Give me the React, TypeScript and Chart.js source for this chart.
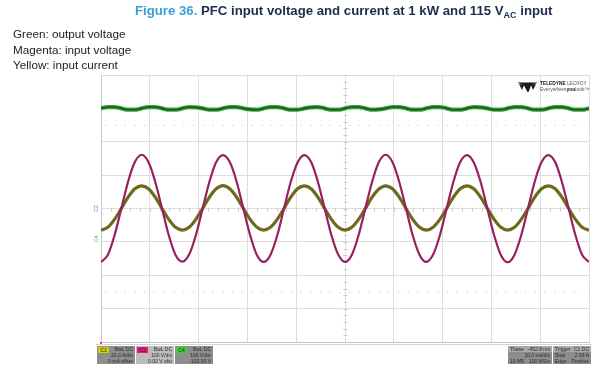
import React, { useEffect, useRef } from "react";
import { Chart, registerables } from "chart.js";
Chart.register(...registerables);

// Time axis (ms), 10 ms/div, 10 divisions
const timeMs = [
  0, 1.39, 2.78, 4.17, 5.56, 6.94, 8.33, 9.72, 11.11, 12.5, 13.89, 15.28,
  16.67, 18.06, 19.44, 20.83, 22.22, 23.61, 25, 26.39, 27.78, 29.17, 30.56, 31.94,
  33.33, 34.72, 36.11, 37.5, 38.89, 40.28, 41.67, 43.06, 44.44, 45.83, 47.22, 48.61,
  50, 51.39, 52.78, 54.17, 55.56, 56.94, 58.33, 59.72, 61.11, 62.5, 63.89, 65.28,
  66.67, 68.06, 69.44, 70.83, 72.22, 73.61, 75, 76.39, 77.78, 79.17, 80.56, 81.94,
  83.33, 84.72, 86.11, 87.5, 88.89, 90.28, 91.67, 93.06, 94.44, 95.83, 97.22, 98.61,
  100,
];

// Magenta: input voltage (V)
const inputVoltage = [
  -160, -139, -80, 0, 81, 139, 161, 139, 80, 0, -80, -139,
  -159, -138, -80, 0, 80, 139, 160, 139, 81, 0, -80, -139,
  -160, -139, -81, 0, 80, 138, 160, 139, 80, 0, -80, -138,
  -160, -139, -80, 0, 80, 139, 161, 139, 80, 0, -81, -139,
  -160, -138, -80, 0, 80, 139, 160, 138, 80, 0, -80, -139,
  -161, -139, -80, 0, 81, 139, 160, 139, 80, 0, -80, -139,
  -160,
];

// Yellow: input current (A)
const inputCurrent = [
  -13.0, -11.3, -6.5, 0, 6.8, 11.8, 13.6, 11.8, 6.8, 0, -6.5, -11.3,
  -13.0, -11.3, -6.5, 0, 6.8, 11.8, 13.7, 11.8, 6.8, 0, -6.5, -11.2,
  -12.9, -11.3, -6.5, 0, 6.8, 11.8, 13.6, 11.8, 6.8, 0, -6.5, -11.3,
  -13.0, -11.3, -6.5, 0, 6.8, 11.7, 13.6, 11.8, 6.8, 0, -6.5, -11.3,
  -13.0, -11.2, -6.5, 0, 6.8, 11.8, 13.6, 11.8, 6.8, 0, -6.5, -11.3,
  -13.0, -11.3, -6.5, 0, 6.8, 11.8, 13.6, 11.8, 6.8, 0, -6.5, -11.3,
  -13.0,
];

// Green: output voltage (V)
const outputVoltage = [
  400, 404, 404, 400, 396, 396, 400, 404, 404, 400, 396, 396,
  400, 404, 403, 400, 396, 396, 400, 404, 404, 400, 397, 396,
  400, 404, 404, 400, 396, 396, 400, 403, 404, 400, 396, 396,
  400, 404, 404, 400, 396, 397, 400, 404, 404, 400, 396, 396,
  400, 404, 404, 400, 396, 396, 400, 404, 403, 400, 396, 396,
  400, 404, 404, 400, 396, 396, 400, 404, 404, 400, 396, 396,
  400,
];

const msPerDiv = 10;
const voltsPerDiv = 100;
const ampsPerDiv = 20;
const outputOffsetV = -100;

const legendLines = ["Green: output voltage", "Magenta: input voltage", "Yellow: input current"];

const channelBoxes = [
  { tag: "C1", tagColor: "#d4d000", bg: "#8d8d8d", lines: ["BwL DC", "20.0 A/div", "0 mA offset"] },
  { tag: "C2", tagColor: "#e41a7c", bg: "#bcbcbc", lines: ["BwL DC", "100 V/div", "0.00 V ofst"] },
  { tag: "C4", tagColor: "#3bd13b", bg: "#8d8d8d", lines: ["BwL DC", "100 V/div", "-100.00 V"] },
];

const timebaseRows = [["Tbase", "-452.8 ms"], ["", "10.0 ms/div"], ["10 MS", "100 MS/s"]];
const triggerRows = [["Trigger", "C1 DC"], ["Stop", "2.93 A"], ["Edge", "Positive"]];

const FONT = '"Liberation Sans", Arial, sans-serif';

const scopeDecor = {
  id: "scopeDecor",
  beforeDatasetsDraw(chart: any) {
    const { ctx, chartArea: a, scales } = chart;
    const x = scales.x;
    const y = scales.y;
    ctx.save();
    // dotted lines at +/- 2.5 div
    ctx.strokeStyle = "#d2d2d2";
    ctx.lineWidth = 1;
    ctx.setLineDash([1.5, 8.26]);
    [2.5 * voltsPerDiv, -2.5 * voltsPerDiv].forEach((v) => {
      const py = Math.round(y.getPixelForValue(v)) + 0.5;
      ctx.beginPath();
      ctx.moveTo(a.left + 4, py);
      ctx.lineTo(a.right, py);
      ctx.stroke();
    });
    ctx.setLineDash([]);
    // center-axis minor ticks
    ctx.strokeStyle = "#cccccc";
    const cy = Math.round(y.getPixelForValue(0)) + 0.5;
    for (let t = 0; t <= 100; t += msPerDiv / 5) {
      const px = Math.round(x.getPixelForValue(t)) + 0.5;
      ctx.beginPath();
      ctx.moveTo(px, cy - 2);
      ctx.lineTo(px, cy + 2);
      ctx.stroke();
    }
    const cx = Math.round(x.getPixelForValue(50)) + 0.5;
    for (let v = -400; v <= 400; v += voltsPerDiv / 5) {
      const py = Math.round(y.getPixelForValue(v)) + 0.5;
      ctx.beginPath();
      ctx.moveTo(cx - 2, py);
      ctx.lineTo(cx + 2, py);
      ctx.stroke();
    }
    ctx.restore();
  },
  afterDraw(chart: any) {
    const { ctx, chartArea: a, scales } = chart;
    ctx.save();
    ctx.font = `5px ${FONT}`;
    ctx.textAlign = "center";
    ctx.textBaseline = "middle";
    const marks = [
      { txt: "C2", color: "#e0409a", py: scales.y.getPixelForValue(0) },
      { txt: "C4", color: "#40c040", py: scales.yO.getPixelForValue(0) - 3 },
    ];
    marks.forEach((m) => {
      ctx.save();
      ctx.translate(a.left - 4, m.py);
      ctx.rotate(-Math.PI / 2);
      ctx.fillStyle = m.color;
      ctx.fillText(m.txt, 0, 0);
      ctx.restore();
    });
    // trigger marker
    ctx.fillStyle = "#e0409a";
    ctx.fillRect(a.left - 1, a.bottom, 2, 3);
    // logo symbol
    ctx.fillStyle = "#1a1a1a";
    ctx.beginPath();
    ctx.moveTo(517, 82.5);
    ctx.lineTo(538, 82.5);
    ctx.lineTo(531, 85.5);
    ctx.lineTo(528.5, 92);
    ctx.lineTo(527.5, 92);
    ctx.lineTo(524, 85.5);
    ctx.closePath();
    ctx.fill();
    ctx.beginPath();
    ctx.moveTo(519, 84);
    ctx.lineTo(524, 85);
    ctx.lineTo(522, 90);
    ctx.closePath();
    ctx.moveTo(536, 84);
    ctx.lineTo(531, 85);
    ctx.lineTo(533, 90);
    ctx.closePath();
    ctx.fill();
    ctx.restore();
  },
};

function Scope() {
  const ref = useRef<HTMLCanvasElement | null>(null);
  useEffect(() => {
    if (!ref.current) return;
    const pts = (ys: number[]) => timeMs.map((t, i) => ({ x: t, y: ys[i] }));
    const common = { pointRadius: 0, cubicInterpolationMode: "monotone" as const, fill: false };
    const chart = new Chart(ref.current, {
      type: "line",
      data: {
        datasets: [
          { ...common, label: "Magenta: input voltage", data: pts(inputVoltage), yAxisID: "y", borderColor: "#9a1f5d", borderWidth: 2.2, order: 0 },
          { ...common, label: "Yellow: input current", data: pts(inputCurrent), yAxisID: "yI", borderColor: "#6d6a1c", borderWidth: 3.2, order: 1 },
          { ...common, label: "Green: output voltage", data: pts(outputVoltage), yAxisID: "yO", borderColor: "#3f9f3f", borderWidth: 4.2, order: 3 },
          { ...common, label: "Green core", data: pts(outputVoltage), yAxisID: "yO", borderColor: "#125a12", borderWidth: 1.6, order: 2 },
        ],
      },
      options: {
        animation: false,
        responsive: false,
        devicePixelRatio: 1,
        layout: { padding: { left: 101, right: 12, top: 75, bottom: 26 } },
        plugins: { legend: { display: false }, tooltip: { enabled: false }, title: { display: false } },
        scales: {
          x: {
            type: "linear",
            min: 0,
            max: 100,
            ticks: { display: false, stepSize: msPerDiv },
            grid: { color: "#dedede", drawTicks: false },
            border: { color: "#c6c6c6" },
          },
          y: {
            min: -4 * voltsPerDiv,
            max: 4 * voltsPerDiv,
            ticks: { display: false, stepSize: voltsPerDiv },
            grid: { color: "#dedede", drawTicks: false },
            border: { color: "#c6c6c6" },
          },
          yI: { display: false, min: -4 * ampsPerDiv, max: 4 * ampsPerDiv },
          yO: { display: false, min: -4 * voltsPerDiv - outputOffsetV, max: 4 * voltsPerDiv - outputOffsetV },
        },
      },
      plugins: [scopeDecor],
    });
    return () => chart.destroy();
  }, []);
  return <canvas ref={ref} width={601} height={368} style={{ position: "absolute", left: 0, top: 0, width: 601, height: 368 }} />;
}

function Box({ left, width, bg, children }: any) {
  return (
    <div style={{ position: "absolute", left, top: 346, width, height: 18, background: bg, fontSize: 5, lineHeight: "6px", color: "#2a2a2a", fontFamily: FONT }}>
      {children}
    </div>
  );
}

export default function App() {
  return (
    <div style={{ position: "absolute", left: 0, top: 0, width: 601, height: 368, background: "#fff", overflow: "hidden", fontFamily: FONT }}>
      <Scope />
      <div style={{ position: "absolute", left: 135, top: 3, fontSize: 13.2, fontWeight: "bold", whiteSpace: "nowrap", color: "#1d2c4e" }}>
        <span style={{ color: "#3a9fd6" }}>Figure 36.</span> PFC input voltage and current at 1 kW and 115 V
        <sub style={{ fontSize: 9, verticalAlign: "-3px" }}>AC</sub> input
      </div>
      {legendLines.map((l, i) => (
        <div key={l} style={{ position: "absolute", left: 13, top: 26 + i * 15.5, fontSize: 11.7, lineHeight: "15px", color: "#222", whiteSpace: "nowrap" }}>
          {l}
        </div>
      ))}
      <div style={{ position: "absolute", left: 540, top: 79.5, fontSize: 6, lineHeight: "7px", whiteSpace: "nowrap", color: "#111" }}>
        <span style={{ display: "inline-block", transform: "scaleX(0.8)", transformOrigin: "left" }}>
          <b>TELEDYNE</b> <span style={{ color: "#555" }}>LECROY</span>
        </span>
      </div>
      <div style={{ position: "absolute", left: 540, top: 86, fontSize: 5, lineHeight: "6px", whiteSpace: "nowrap", color: "#555" }}>
        Everywhere<b style={{ color: "#111" }}>you</b>look™
      </div>
      <div style={{ position: "absolute", left: 96, top: 344, width: 496, height: 1, background: "#d4d4d4" }} />
      {channelBoxes.map((b, i) => (
        <Box key={b.tag} left={97 + i * 39} width={38} bg={b.bg}>
          <div style={{ position: "absolute", left: 1, top: 1, width: 11, height: 6, background: b.tagColor, color: "#222", fontSize: 5, lineHeight: "6px", textAlign: "center" }}>{b.tag}</div>
          {b.lines.map((t, j) => (
            <div key={j} style={{ position: "absolute", right: 2, top: j * 6, textAlign: "right", whiteSpace: "nowrap" }}>{t}</div>
          ))}
        </Box>
      ))}
      <Box left={508} width={44} bg="#8d8d8d">
        <div style={{ position: "absolute", left: 0, top: 0, width: 44, height: 6, background: "#a8a8a8" }} />
        {timebaseRows.map((r, j) => (
          <div key={j} style={{ position: "absolute", left: 2, right: 2, top: j * 6, display: "flex", justifyContent: "space-between", whiteSpace: "nowrap" }}>
            <span>{r[0]}</span><span>{r[1]}</span>
          </div>
        ))}
      </Box>
      <Box left={553} width={38} bg="#8d8d8d">
        <div style={{ position: "absolute", left: 0, top: 0, width: 38, height: 6, background: "#a8a8a8" }} />
        {triggerRows.map((r, j) => (
          <div key={j} style={{ position: "absolute", left: 2, right: 2, top: j * 6, display: "flex", justifyContent: "space-between", whiteSpace: "nowrap" }}>
            <span>{r[0]}</span><span>{r[1]}</span>
          </div>
        ))}
      </Box>
    </div>
  );
}
